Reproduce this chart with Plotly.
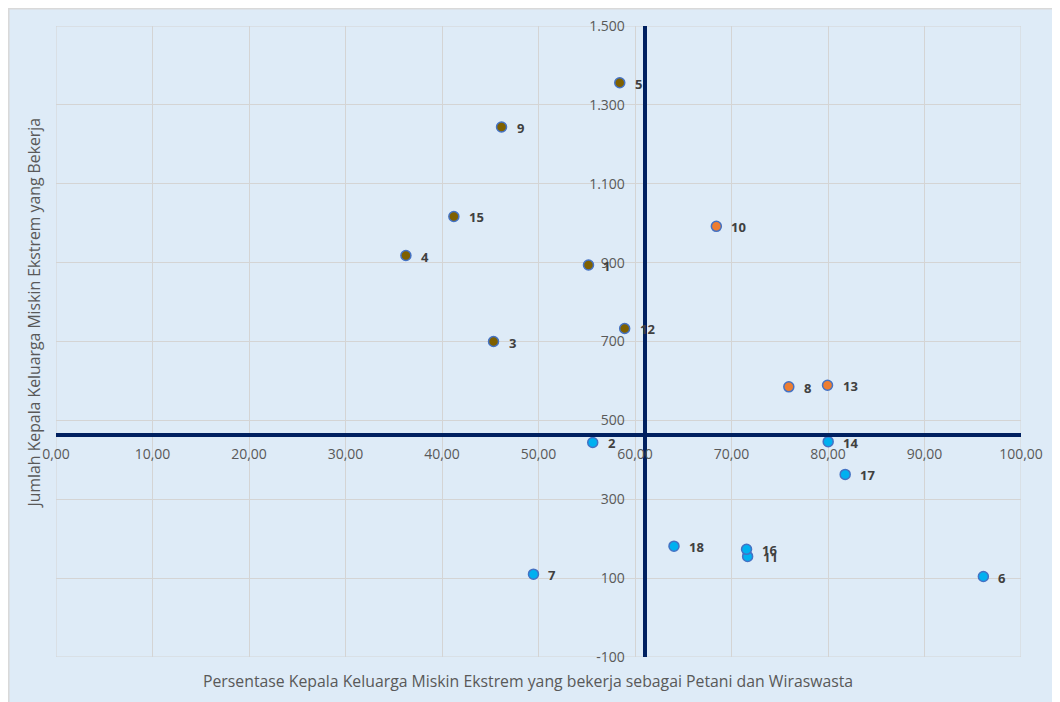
import plotly.graph_objects as go

# ---- data ----
labels = ["1", "2", "3", "4", "5", "6", "7", "8", "9", "10",
          "11", "12", "13", "14", "15", "16", "17", "18"]
pct_petani = [55.18, 55.62, 45.34, 36.26, 58.42, 96.10, 49.48, 75.94, 46.17, 68.43,
              71.67, 58.93, 79.95, 80.02, 41.23, 71.56, 81.78, 64.04]
jumlah_kk = [894, 444, 700, 918, 1356, 104, 110, 585, 1244, 992,
             155, 733, 589, 446, 1017, 173, 363, 181]
group = ["A", "C", "A", "A", "A", "C", "C", "B", "A", "B",
         "C", "A", "B", "C", "A", "C", "C", "C"]

cross_x = 61.08   # vertical axis crosses here
cross_y = 464     # horizontal axis crosses here

x_range = [0, 100]
y_range = [-100, 1500]
x_ticks = [0, 10, 20, 30, 40, 50, 60, 70, 80, 90, 100]
x_ticktext = ["0,00", "10,00", "20,00", "30,00", "40,00", "50,00",
              "60,00", "70,00", "80,00", "90,00", "100,00"]
y_ticks = [-100, 100, 300, 500, 700, 900, 1100, 1300, 1500]
y_ticktext = ["-100", "100", "300", "500", "700", "900", "1.100", "1.300", "1.500"]

x_title = "Persentase Kepala Keluarga Miskin Ekstrem yang bekerja sebagai Petani dan Wiraswasta"
y_title = "Jumlah Kepala Keluarga Miskin Ekstrem yang Bekerja"

# ---- styles ----
fill_colors = {"A": "#7F6000", "B": "#ED7D31", "C": "#00B0F0"}
BG = "#DEEBF7"
GRID = "#D4D4D4"
NAVY = "#002060"
FONT = "Open Sans"

fig = go.Figure()
for g in ["A", "B", "C"]:
    idx = [i for i, v in enumerate(group) if v == g]
    fig.add_trace(go.Scatter(
        x=[pct_petani[i] for i in idx],
        y=[jumlah_kk[i] for i in idx],
        mode="markers",
        marker=dict(size=10, color=fill_colors[g],
                    line=dict(color="#4472C4", width=1.5)),
        showlegend=False,
        hoverinfo="skip",
    ))

for xv, yv, t in zip(pct_petani, jumlah_kk, labels):
    fig.add_annotation(x=xv, y=yv, text=t, showarrow=False,
                       xanchor="left", yanchor="middle", xshift=13, yshift=-1,
                       font=dict(family=FONT, size=13, color="#404040", weight="bold"))

x_pos = (cross_x - x_range[0]) / (x_range[1] - x_range[0])
y_pos = (cross_y - y_range[0]) / (y_range[1] - y_range[0])

fig.update_layout(
    width=1052, height=694,
    margin=dict(l=48, r=39, t=18, b=45, autoexpand=False),
    paper_bgcolor="white",
    plot_bgcolor=BG,
    font=dict(family=FONT, size=14, color="#595959"),
    xaxis=dict(range=x_range, tickvals=x_ticks, ticktext=x_ticktext,
               showgrid=True, gridcolor=GRID, gridwidth=1, zeroline=False,
               showline=True, linecolor=NAVY, linewidth=3.5,
               anchor="free", position=y_pos, ticks="", automargin=False,
               ticklabelstandoff=6,
               tickfont=dict(family=FONT, size=14, color="#595959")),
    yaxis=dict(range=y_range, tickvals=y_ticks, ticktext=y_ticktext,
               showgrid=True, gridcolor=GRID, gridwidth=1, zeroline=False,
               showline=True, linecolor=NAVY, linewidth=3.5,
               anchor="free", position=x_pos, ticks="", automargin=False,
               ticklabelstandoff=16,
               tickfont=dict(family=FONT, size=14, color="#595959")),
    shapes=[
        dict(type="rect", xref="paper", yref="paper",
             x0=-0.0492, x1=1.06, y0=-0.09, y1=1.0277,
             fillcolor=BG, line=dict(color="#D9D9D9", width=2), layer="below"),
        dict(type="rect", xref="x", yref="y",
             x0=x_range[0], x1=x_range[1], y0=y_range[0], y1=y_range[1],
             line=dict(color=GRID, width=1), layer="below"),
    ],
    annotations=list(fig.layout.annotations) + [
        dict(text=x_title, xref="paper", yref="paper", x=0.4896, y=-0.038,
             showarrow=False, xanchor="center", yanchor="middle",
             font=dict(family=FONT, size=15.8, color="#595959")),
        dict(text=y_title, xref="paper", yref="paper", x=-0.0228, y=0.546,
             showarrow=False, textangle=-90, xanchor="center", yanchor="middle",
             font=dict(family=FONT, size=15.8, color="#595959")),
    ],
)

fig.write_html("out.html")
